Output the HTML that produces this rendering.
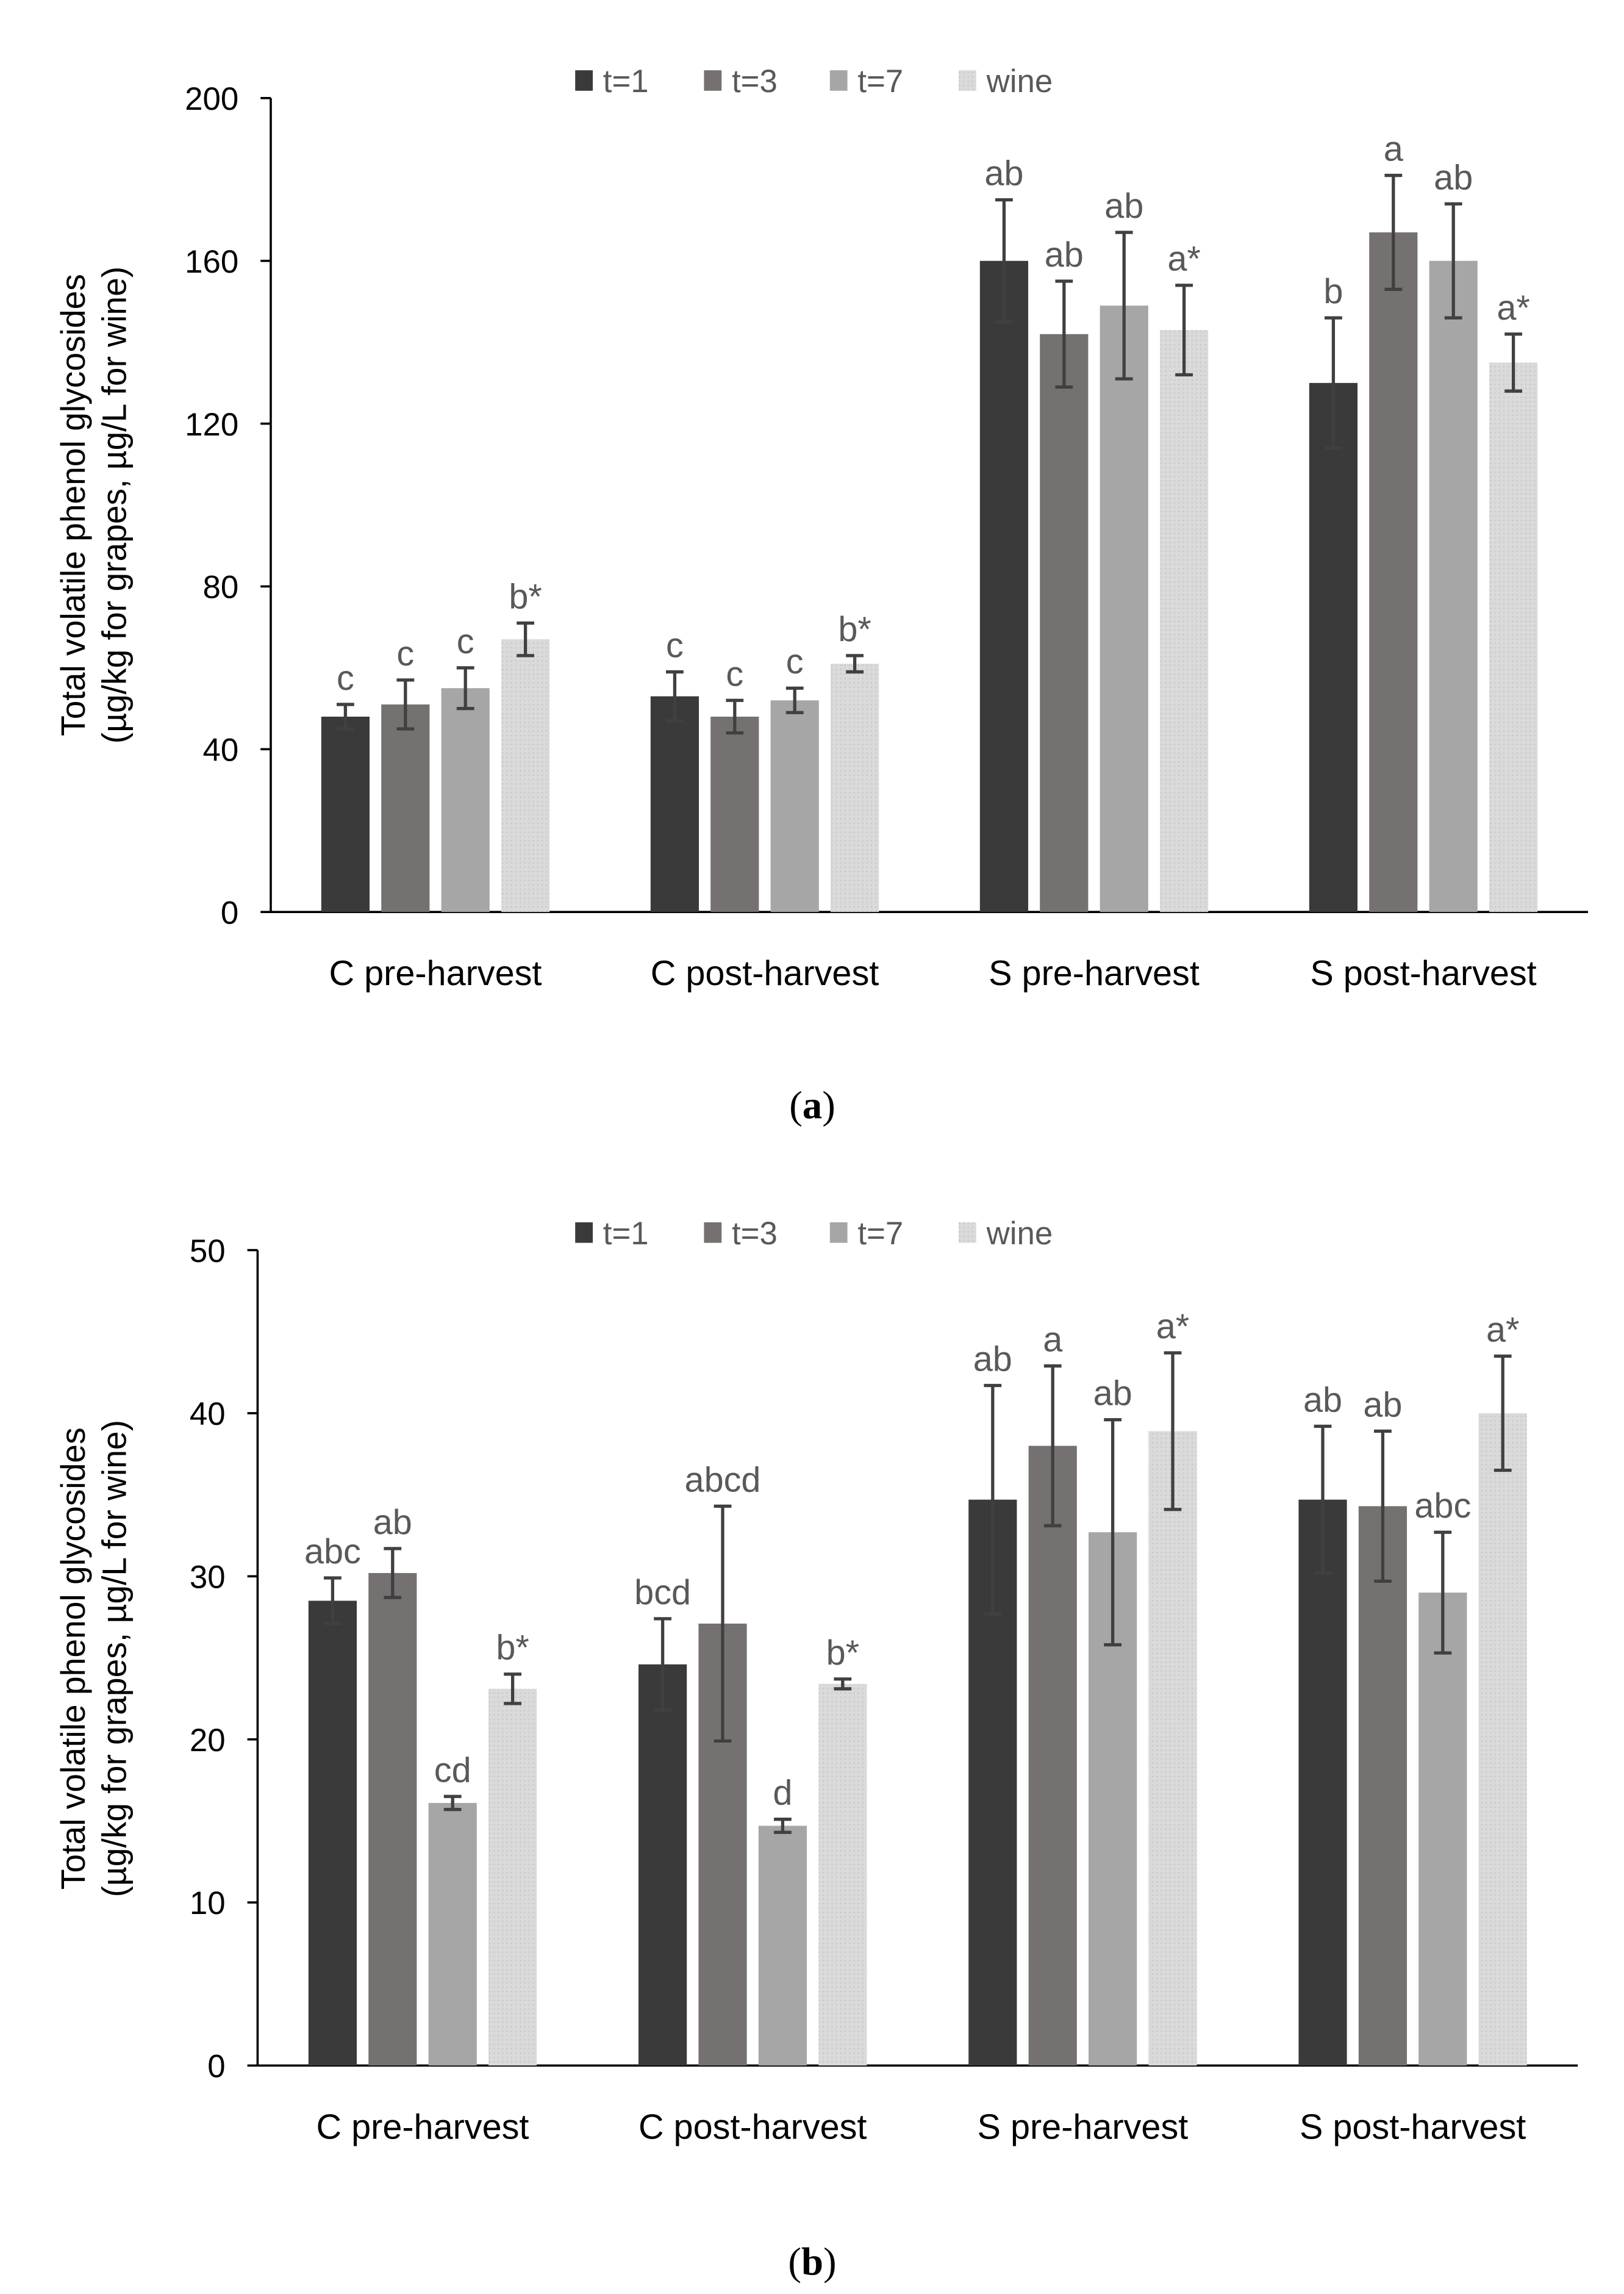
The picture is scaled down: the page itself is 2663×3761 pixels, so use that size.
<!DOCTYPE html>
<html><head><meta charset="utf-8"><style>
html,body{margin:0;padding:0;background:#fff;}
svg{display:block;}
text{font-family:"Liberation Sans",sans-serif;}
</style></head><body>
<svg id="root" width="2663" height="3761" viewBox="0 0 1109.58 1567.08" xmlns="http://www.w3.org/2000/svg">
<rect width="1109.58" height="1567.08" fill="#fff"/>
<defs>
<pattern id="dots" width="3" height="3" patternUnits="userSpaceOnUse"><rect width="3" height="3" fill="#dadada"/><rect x="1" y="1" width="1" height="1" fill="#c8c8c8"/></pattern>
</defs>
<g id="chartA"></g>
<g id="chartB"></g>
<text x="555" y="764" text-anchor="middle" font-size="27" style="font-family:'Liberation Serif',serif">(<tspan font-weight="bold">a</tspan>)</text>
<text x="555" y="1554" text-anchor="middle" font-size="27" style="font-family:'Liberation Serif',serif">(<tspan font-weight="bold">b</tspan>)</text>
</svg>
<script>
const categories = ["C pre-harvest","C post-harvest","S pre-harvest","S post-harvest"];
const seriesNames = ["t=1","t=3","t=7","wine"];
const aValues = [[48,51,55,67],[53,48,52,61],[160,142,149,143],[130,167,160,135]];
const aErrors = [[3,6,5,4],[6,4,3,2],[15,13,18,11],[16,14,14,7]];
const aLetters = [["c","c","c","b*"],["c","c","c","b*"],["ab","ab","ab","a*"],["b","a","ab","a*"]];
const aTicks = [0,40,80,120,160,200];
const bValues = [[28.5,30.2,16.1,23.1],[24.6,27.1,14.7,23.4],[34.7,38.0,32.7,38.9],[34.7,34.3,29.0,40.0]];
const bErrors = [[1.4,1.5,0.4,0.9],[2.8,7.2,0.4,0.3],[7.0,4.9,6.9,4.8],[4.5,4.6,3.7,3.5]];
const bLetters = [["abc","ab","cd","b*"],["bcd","abcd","d","b*"],["ab","a","ab","a*"],["ab","ab","abc","a*"]];
const bTicks = [0,10,20,30,40,50];

const NS="http://www.w3.org/2000/svg";
const fills=["#3a3a3a","#767171","#a6a6a6","url(#dots)"];
function mk(parent,tag,attrs,txt){const e=document.createElementNS(NS,tag);for(const k in attrs)e.setAttribute(k,attrs[k]);if(txt!==undefined)e.textContent=txt;parent.appendChild(e);return e;}

function draw(g,cfg,values,errors,letters,ticks){
  const {x0,x1,y0,yTop,vmax,legendY,titleY}=cfg;
  const y=v=>y0-(v/vmax)*(y0-yTop);
  const gw=(x1-x0)/categories.length;
  const xc=i=>x0+gw*(i+0.5);
  const bw=33, step=41;
  // axes
  let ax=mk(g,"line",{x1:x0,y1:yTop,x2:x0,y2:y0,stroke:"#000","stroke-width":1.5});
  
  
  ax=mk(g,"line",{x1:x0,y1:y0,x2:x1,y2:y0,stroke:"#000","stroke-width":1.5});
  
  
  ticks.forEach(t=>{
    const tl=mk(g,"line",{x1:x0-7,y1:y(t),x2:x0,y2:y(t),stroke:"#000","stroke-width":1.5});
    
    
    const tx=mk(g,"text",{x:x0-22,y:y(t)+8,"text-anchor":"end","font-size":22,fill:"#000"},String(t));
    
    
  });
  categories.forEach((c,i)=>{
    const tx=mk(g,"text",{x:xc(i),y:y0+50,"text-anchor":"middle","font-size":24,fill:"#000"},c);
    
    
    values[i].forEach((v,j)=>{
      const cx=xc(i)+(j-1.5)*step;
      const r=mk(g,"rect",{x:cx-bw/2,y:y(v),width:bw,height:y0-y(v),fill:fills[j]});
      
      
      const e=errors[i][j], top=y(v+e), bot=y(v-e);
      const eb=mk(g,"path",{d:`M${cx},${top}V${bot}M${cx-6},${top}H${cx+6}M${cx-6},${bot}H${cx+6}`,stroke:"#404040","stroke-width":2.2,fill:"none"});
      
      
      const lt=mk(g,"text",{x:cx,y:top-10,"text-anchor":"middle","font-size":24,fill:"#595959"},letters[i][j]);
      
      
    });
  });
  const lx=[393,481,567,655];
  seriesNames.forEach((s,j)=>{
    const r=mk(g,"rect",{x:lx[j],y:legendY-10,width:12,height:14,fill:fills[j]});
    
    
    const t=mk(g,"text",{x:lx[j]+19,y:legendY+5,"font-size":22,fill:"#595959"},s);
    
    
  });
  const tt=mk(g,"text",{transform:`translate(58,${titleY}) rotate(-90)`,"text-anchor":"middle","font-size":23,fill:"#000"});
  
  
  mk(tt,"tspan",{x:0,y:0},"Total volatile phenol glycosides");
  mk(tt,"tspan",{x:0,y:28},"(µg/kg for grapes, µg/L for wine)");
}
draw(document.getElementById("chartA"),{x0:185,x1:1085,y0:623,yTop:67,vmax:200,legendY:58,titleY:345},aValues,aErrors,aLetters,aTicks);
draw(document.getElementById("chartB"),{x0:176,x1:1078,y0:1411,yTop:854,vmax:50,legendY:845,titleY:1133},bValues,bErrors,bLetters,bTicks);
</script>
</body></html>
